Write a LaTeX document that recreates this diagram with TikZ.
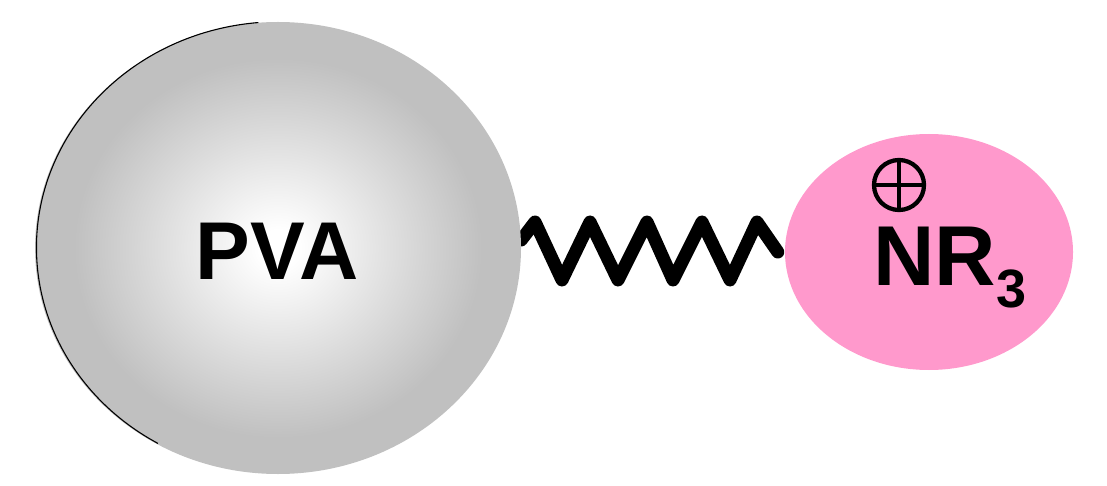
\documentclass[tikz,border=0pt]{standalone}
\usepackage{fontspec}
\setmainfont{Liberation Sans}
\usetikzlibrary{shapes.geometric,backgrounds}
\definecolor{ballgray}{RGB}{192,192,192}
\definecolor{pinkfill}{RGB}{255,153,204}
\pgfdeclareradialshading{pvaball}{\pgfpoint{0bp}{0bp}}{color(0bp)=(white); color(2bp)=(white); color(21bp)=(ballgray); color(25bp)=(ballgray); color(50bp)=(ballgray)}
\tikzset{
  ballstyle/.style={ellipse, inner sep=0pt, shading=pvaball, draw=none},
  blobstyle/.style={ellipse, inner sep=0pt, fill=pinkfill, draw=none},
  springstyle/.style={line width=13pt, line cap=round, line join=round, black},
  chargestyle/.style={circle, draw=black, line width=4.3pt, inner sep=0pt, minimum size=50pt},
  bigtext/.style={font=\bfseries\fontsize{82}{82}\selectfont, inner sep=0pt}
}
\begin{document}
\begin{tikzpicture}[x=1pt,y=1pt]
\useasboundingbox (0,0) rectangle (1107,485);
\node[ballstyle, minimum width=486pt, minimum height=452pt] (pva) at (278,237) {};
\draw[line width=1.1pt] (pva.95) arc[start angle=95, end angle=240, x radius=243pt, y radius=226pt];
\node[bigtext, anchor=base] (pvatext) at (277,206) {PVA};
\node[blobstyle, minimum width=288pt, minimum height=236pt] (nr) at (929,233) {};
\begin{scope}[on background layer]
\draw[springstyle] ([yshift=8pt]pva.east) -- (535,263) -- (562,205) -- (590,263) -- (618,205) -- (647,263) -- (673,205) -- (702,263) -- (730,205) -- (757,263) -- ([xshift=-7pt]nr.west);
\end{scope}
\node[chargestyle] (plus) at (899,300) {};
\draw[line width=4.3pt] (plus.north) -- (plus.south) (plus.west) -- (plus.east);
\node[anchor=base west, inner sep=0pt] (nr3) at (873,200) {\bfseries\fontsize{85}{85}\selectfont NR\kern1pt\raisebox{-22pt}{\fontsize{54}{54}\selectfont 3}};
\end{tikzpicture}
\end{document}
